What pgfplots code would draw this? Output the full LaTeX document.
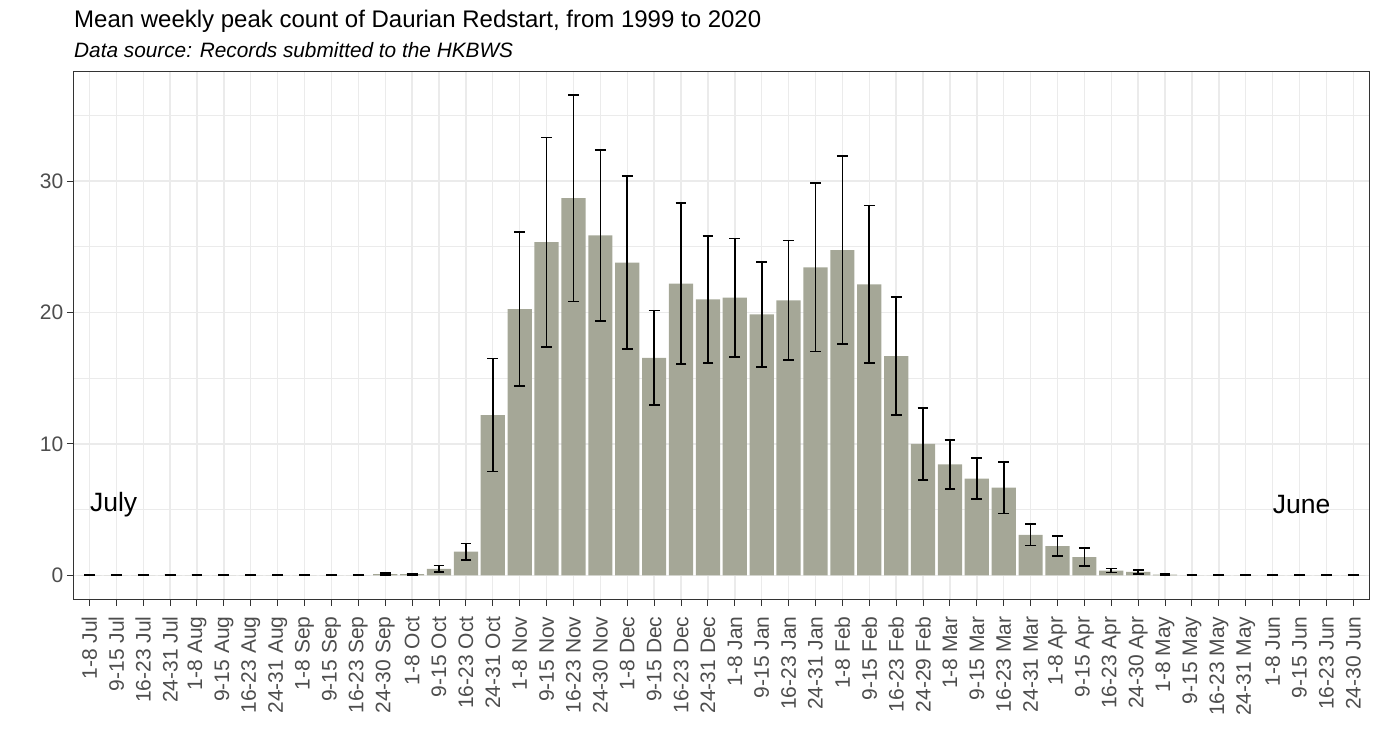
\documentclass[border=0pt]{standalone}
\usepackage{fontspec}
\setmainfont{Liberation Sans}
\usepackage{pgfplots}
\usepackage{pgfplotstable}
\pgfplotsset{compat=1.18}
\definecolor{barfill}{RGB}{165,167,151}
\definecolor{gridc}{RGB}{235,235,235}
\definecolor{framec}{RGB}{51,51,51}
\definecolor{tickc}{RGB}{77,77,77}
\pgfplotstableread{
x y e
0 0 0
1 0 0
2 0 0
3 0 0
4 0 0
5 0 0
6 0 0
7 0 0
8 0 0
9 0 0
10 0 0
11 0.1 0.1
12 0.1 0.05
13 0.5 0.25
14 1.8 0.63
15 12.2 4.3
16 20.25 5.87
17 25.35 7.97
18 28.7 7.86
19 25.87 6.5
20 23.8 6.6
21 16.55 3.6
22 22.2 6.1
23 21.0 4.85
24 21.13 4.5
25 19.86 4.0
26 20.93 4.55
27 23.44 6.4
28 24.75 7.16
29 22.14 6.0
30 16.69 4.46
31 10.0 2.74
32 8.45 1.87
33 7.36 1.56
34 6.68 1.97
35 3.08 0.81
36 2.22 0.76
37 1.38 0.68
38 0.37 0.15
39 0.26 0.15
40 0.05 0.05
41 0 0
42 0 0
43 0 0
44 0 0
45 0 0
46 0 0
47 0 0
}\datatable
\begin{document}
\begin{tikzpicture}
\useasboundingbox (-73.3bp,-152.7bp) rectangle (1305.7bp,599.3bp);
\begin{axis}[
  at={(0,0)}, anchor=south west,
  scale only axis, width=1296.1bp, height=528bp,
  xmin=-0.6, xmax=47.6, ymin=-1.82, ymax=38.35,
  ybar, bar width=0.9, bar shift=0pt,
  xtick={0,...,47},
  xticklabels={1-8 Jul,9-15 Jul,16-23 Jul,24-31 Jul,1-8 Aug,9-15 Aug,16-23 Aug,24-31 Aug,1-8 Sep,9-15 Sep,16-23 Sep,24-30 Sep,1-8 Oct,9-15 Oct,16-23 Oct,24-31 Oct,1-8 Nov,9-15 Nov,16-23 Nov,24-30 Nov,1-8 Dec,9-15 Dec,16-23 Dec,24-31 Dec,1-8 Jan,9-15 Jan,16-23 Jan,24-31 Jan,1-8 Feb,9-15 Feb,16-23 Feb,24-29 Feb,1-8 Mar,9-15 Mar,16-23 Mar,24-31 Mar,1-8 Apr,9-15 Apr,16-23 Apr,24-30 Apr,1-8 May,9-15 May,16-23 May,24-31 May,1-8 Jun,9-15 Jun,16-23 Jun,24-30 Jun},
  ytick={0,10,20,30}, minor ytick={5,15,25,35},
  xmajorgrids, ymajorgrids, yminorgrids,
  major grid style={color=gridc, line width=1.4bp},
  minor grid style={color=gridc, line width=0.9bp},
  axis line style={color=framec, line width=1bp},
  tick align=outside, tick pos=left,
  major tick length=6.5bp, minor tick length=0pt,
  tick style={color=framec, line width=1bp},
  /pgf/number format/assume math mode=true,
  xticklabel style={rotate=90, anchor=east, font=\fontsize{21bp}{25bp}\selectfont, color=tickc, inner sep=0pt},
  yticklabel style={font=\fontsize{21bp}{25bp}\selectfont, color=tickc, inner sep=0pt},
  xticklabel shift=10.5bp, yticklabel shift=3.4bp,
  clip=false,
]
\addplot[fill=barfill, draw=none,
  error bars/.cd, y dir=both, y explicit,
  error bar style={line width=1.6bp, black},
  error mark options={rotate=90, mark size=5.4bp, line width=1.8bp, black}]
  table[x=x, y=y, y error=e] {\datatable};
\node[font=\fontsize{26.5bp}{30bp}\selectfont, inner sep=0pt] at (axis cs:0.9,5.4) {July};
\node[font=\fontsize{26.5bp}{30bp}\selectfont, inner sep=0pt] at (axis cs:45.08,5.4) {June};
\end{axis}
\node[anchor=base west, inner sep=0pt, font=\fontsize{24bp}{28bp}\selectfont] at (0.7bp,572.1bp) {Mean weekly peak count of Daurian Redstart, from 1999 to 2020};
\node[anchor=base west, inner sep=0pt, font=\fontsize{20.8bp}{24bp}\selectfont\itshape] at (0.7bp,542bp) {Data source: Records submitted to the HKBWS};
\end{tikzpicture}
\end{document}
